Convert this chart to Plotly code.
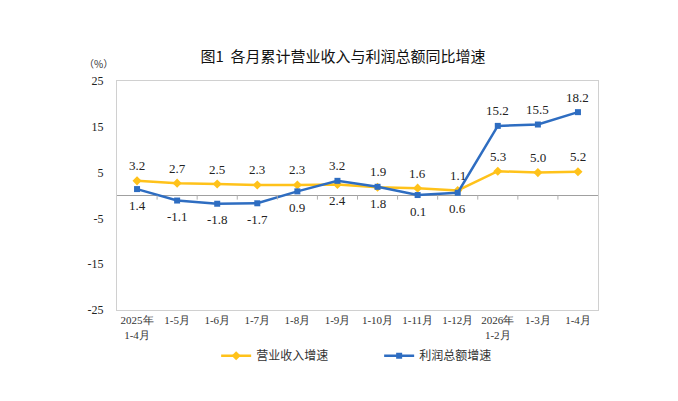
import plotly.graph_objects as go

# 月份（累计）
months = ['2025年<br>1-4月', '1-5月', '1-6月', '1-7月', '1-8月', '1-9月',
          '1-10月', '1-11月', '1-12月', '2026年<br>1-2月', '1-3月', '1-4月']

# 营业收入增速 (%)
revenue = [3.2, 2.7, 2.5, 2.3, 2.3, 2.4, 1.8, 1.6, 1.1, 5.3, 5.0, 5.2]
revenue_up = [True] * 5 + [False] * 2 + [True] * 5

# 利润总额增速 (%)
profit = [1.4, -1.1, -1.8, -1.7, 0.9, 3.2, 1.9, 0.1, 0.6, 15.2, 15.5, 18.2]
profit_up = [False] * 5 + [True] * 2 + [False] * 2 + [True] * 3

y_ticks = [-25, -15, -5, 5, 15, 25]

yellow = '#FFC21A'
blue = '#2E6DC1'
serif = 'Liberation Serif'
cjk = 'Noto Sans CJK SC'

fig = go.Figure()
fig.add_trace(go.Scatter(
    x=months, y=revenue, name='营业收入增速',
    mode='lines+markers',
    line=dict(color=yellow, width=2.5),
    marker=dict(symbol='diamond', size=7, color=yellow),
))
fig.add_trace(go.Scatter(
    x=months, y=profit, name='利润总额增速',
    mode='lines+markers',
    line=dict(color=blue, width=2.5),
    marker=dict(symbol='square', size=6, color=blue),
))

# data labels
annotations = []
for series, ups in ((revenue, revenue_up), (profit, profit_up)):
    for m, v, up in zip(months, series, ups):
        annotations.append(dict(
            x=m, y=v, text='%.1f' % v, showarrow=False,
            yshift=15 if up else -16, xanchor='center', yanchor='middle',
            font=dict(family=serif, size=13, color='#222222')))

annotations.append(dict(text='（%）', xref='paper', yref='paper', x=-0.004, y=1.035,
                        xanchor='right', yanchor='bottom', showarrow=False,
                        font=dict(family=cjk, size=10, color='#333333')))

# small tick marks on the zero line between categories
shapes = []
for i in range(len(months) - 1):
    shapes.append(dict(type='line', xref='x', yref='y',
                       x0=i + 0.5, x1=i + 0.5, y0=0, y1=-0.9,
                       line=dict(color='#b0b0b0', width=1)))

# page body adds an 8px offset, so the figure is a bit smaller than the window
fig.update_layout(
    width=670, height=393,
    margin=dict(l=109, r=80, t=73, b=91),
    paper_bgcolor='white', plot_bgcolor='white',
    title=dict(text='图1  各月累计营业收入与利润总额同比增速',
               x=0.5, xanchor='center', y=0.875, yanchor='middle',
               font=dict(family=cjk, size=15, color='#111111')),
    showlegend=True,
    legend=dict(orientation='h', x=0.545, xanchor='center', y=-0.2, yanchor='middle',
                font=dict(family=cjk, size=12, color='#333333'),
                itemwidth=30, entrywidth=118),
    xaxis=dict(type='category', range=[-0.5, 11.5], showgrid=False,
               showline=True, mirror=True, linecolor='#d0d0d0', linewidth=1,
               ticks='', tickfont=dict(family=serif, size=11, color='#333333')),
    yaxis=dict(range=[-25, 25], tickmode='array', tickvals=y_ticks,
               ticktext=[str(v) for v in y_ticks], showgrid=False,
               showline=True, mirror=True, linecolor='#d0d0d0', linewidth=1,
               zeroline=True, zerolinecolor='#a0a0a0', zerolinewidth=1,
               ticks='', ticklabelstandoff=10,
               tickfont=dict(family=serif, size=12, color='#222222')),
    shapes=shapes,
    annotations=annotations,
)

fig.write_html('out.html')
